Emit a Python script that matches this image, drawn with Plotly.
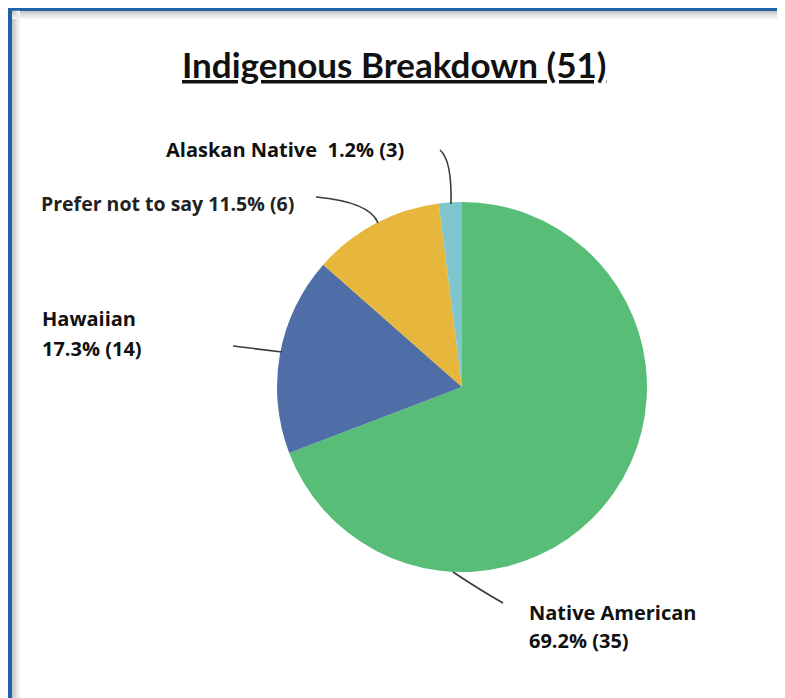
import plotly.graph_objects as go

# page body has an 8px margin, so the figure is drawn 8px in from the corner
OFF = 8
W, H = 785 - OFF, 698 - OFF

# ── Data ──────────────────────────────────────────────────────────────────────
categories = ["Native American", "Hawaiian", "Prefer not to say", "Alaskan Native"]
# slice sizes as they appear in the picture (percent of the pie)
slice_pct = [69.2, 17.3, 11.5, 2.0]
label_pct = ["69.2%", "17.3%", "11.5%", "1.2%"]
counts = [35, 14, 6, 3]
total_label = 51

# ── Colours ───────────────────────────────────────────────────────────────────
GREEN = "#58BD77"
BLUE = "#4F6EA8"
YELLOW = "#E7B73D"
TEAL = "#80C6CE"
FRAME = "#1F63A6"
LEADER = "#3A3A3A"
TEXT = "#111111"


def px(x, y):
    """screen pixel position -> paper coords"""
    return (x - OFF) / W, (H - (y - OFF)) / H


def path(points):
    p = [px(*pt) for pt in points]
    if len(p) == 3:
        return f"M {p[0][0]},{p[0][1]} Q {p[1][0]},{p[1][1]} {p[2][0]},{p[2][1]}"
    return "M " + " L ".join(f"{a},{b}" for a, b in p)


cx, cy, r = 462, 387, 185
x0, y1 = px(cx - r, cy - r)
x1, y0 = px(cx + r, cy + r)

fig = go.Figure(go.Pie(
    labels=categories,
    values=slice_pct,
    sort=False,
    direction="clockwise",
    rotation=0,
    marker=dict(colors=[GREEN, BLUE, YELLOW, TEAL], line=dict(width=0)),
    textinfo="none",
    hoverinfo="label+percent",
    domain=dict(x=[x0, x1], y=[y0, y1]),
    showlegend=False,
))

shapes = []
# frame (as close to the page edge as the body margin allows)
shapes.append(dict(type="line", xref="paper", yref="paper",
                   x0=0.003, x1=0.003, y0=0, y1=1,
                   line=dict(color=FRAME, width=5)))
shapes.append(dict(type="line", xref="paper", yref="paper",
                   x0=px(781, 0)[0], x1=px(781, 0)[0], y0=0, y1=1,
                   line=dict(color=FRAME, width=2)))
shapes.append(dict(type="line", xref="paper", yref="paper",
                   x0=0, x1=px(783, 0)[0], y0=0.998, y1=0.998,
                   line=dict(color=FRAME, width=3)))
# soft inner shadow
for i, c in enumerate(["#C8C8C8", "#D8D8D8", "#E6E6E6", "#F2F2F2"]):
    shapes.append(dict(type="line", xref="paper", yref="paper",
                       x0=px(13 + 2 * i, 0)[0], x1=px(13 + 2 * i, 0)[0],
                       y0=0, y1=0.996, line=dict(color=c, width=2)))
    shapes.append(dict(type="line", xref="paper", yref="paper",
                       x0=px(12, 0)[0], x1=px(780, 0)[0],
                       y0=px(0, 12 + 2 * i)[1], y1=px(0, 12 + 2 * i)[1],
                       line=dict(color=c, width=2)))

# leader lines
leaders = [
    [(440, 150), (452, 160), (451, 204)],
    [(316, 197), (370, 202), (378, 223)],
    [(233, 346), (282, 352)],
    [(453, 572), (480, 590), (503, 603)],
]
for pts in leaders:
    shapes.append(dict(type="path", xref="paper", yref="paper", path=path(pts),
                       line=dict(color=LEADER, width=1.6)))

ann = []
tx, ty = px(394, 64)
ann.append(dict(x=tx, y=ty, xref="paper", yref="paper", showarrow=False,
                text=f"<b><u>Indigenous Breakdown ({total_label})</u></b>",
                font=dict(family="Lato", size=35, color=TEXT),
                xanchor="center", yanchor="middle"))

# each label is one or two lines of text: (text, x, y)
label_lines = [
    (categories[0], 527, 612),
    (f"{label_pct[0]} ({counts[0]})", 527, 640),
    (categories[1], 40, 318),
    (f"{label_pct[1]} ({counts[1]})", 40, 348),
    (f"{categories[2]} {label_pct[2]} ({counts[2]})", 39, 204),
    (f"{categories[3]}  {label_pct[3]} ({counts[3]})", 164, 149),
]
for t, lx, ly in label_lines:
    ax_, ay_ = px(lx, ly)
    if t.startswith(categories[2]):
        f = dict(family="Open Sans", size=19.5, color="#222222", weight="bold")
    else:
        f = dict(family="Open Sans", size=20, color=TEXT, weight="bold")
    ann.append(dict(x=ax_, y=ay_, xref="paper", yref="paper", showarrow=False,
                    text=t, font=f, align="left",
                    xanchor="left", yanchor="middle"))

fig.update_layout(
    width=W, height=H,
    margin=dict(l=0, r=0, t=0, b=0),
    paper_bgcolor="white",
    plot_bgcolor="white",
    shapes=shapes,
    annotations=ann,
)

fig.write_html("out.html")
